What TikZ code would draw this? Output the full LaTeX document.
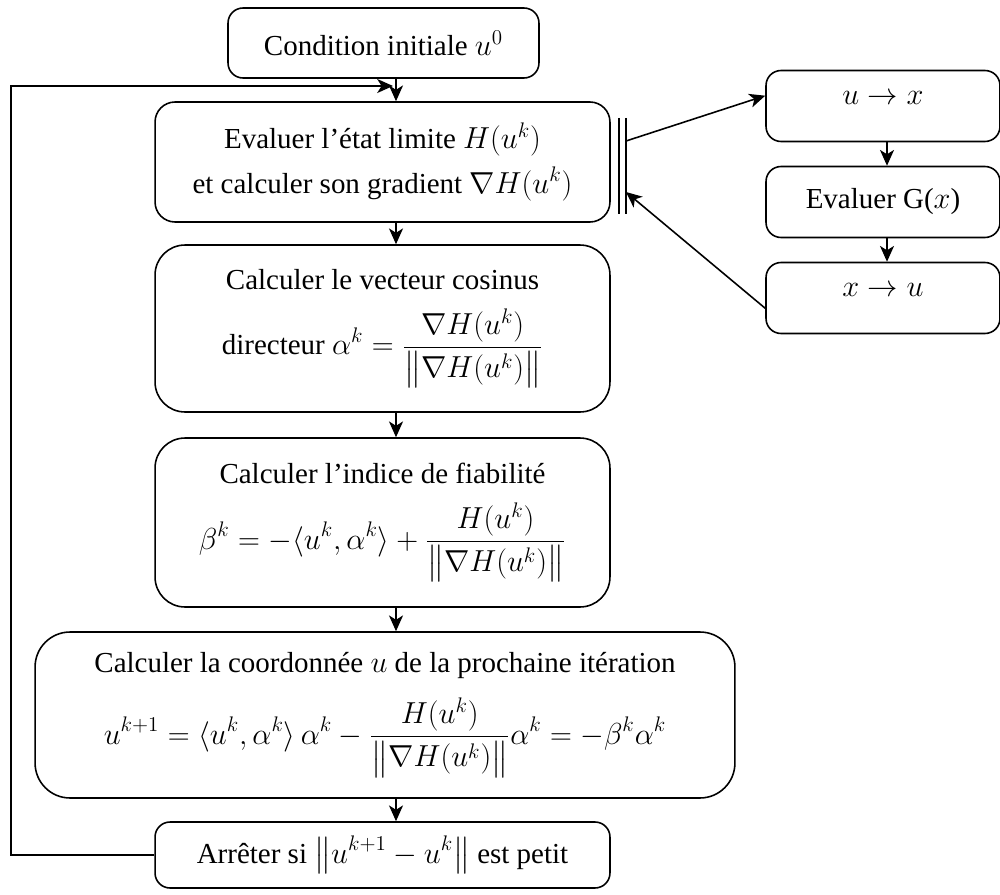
\documentclass[tikz,border=0pt]{standalone}
\usepackage{amsmath}
\usepackage{fontspec}
\setmainfont{Liberation Serif}
\usepackage{tikz}
\usetikzlibrary{arrows.meta,positioning,calc}

\newcommand{\fml}[1]{{$\displaystyle #1$}}
\newcommand{\nrm}[1]{\big\|#1\big\|}

\tikzset{
  stepbox/.style={draw,rounded corners=0.45cm,line width=0.9pt,align=center,
    inner sep=4pt,font=\fontsize{16.5}{26}\selectfont},
  sidebox/.style={stepbox,rounded corners=0.3cm,minimum width=4.68cm,minimum height=1.42cm},
  flow/.style={-{Stealth[length=9pt,width=8pt,inset=2.5pt]},line width=0.9pt},
}

\begin{document}
\begin{tikzpicture}[x=0.02cm,y=-0.02cm]
\useasboundingbox (0,0) rectangle (1000,895);
\coordinate (spine) at (396,0);
% main column
\node[stepbox,rounded corners=0.3cm,minimum width=6.22cm,minimum height=1.4cm] (init) at (383.5,43)
  {Condition initiale $u^0$};
\node[stepbox,rounded corners=0.4cm,minimum width=9.1cm,minimum height=2.4cm] (etat) at (382.5,162)
  {Evaluer l’état limite $H(u^k)$\\ et calculer son gradient \fml{\nabla H(u^k)}};
\node[stepbox,rounded corners=0.6cm,minimum width=9.1cm,minimum height=3.34cm] (cosinus) at (382.5,328.5)
  {Calculer le vecteur cosinus\\[10pt]
   directeur \fml{\alpha^k=\frac{\nabla H(u^k)}{\nrm{\nabla H(u^k)}}}};
\node[stepbox,rounded corners=0.6cm,minimum width=9.1cm,minimum height=3.38cm] (fiab) at (382.5,522.5)
  {Calculer l’indice de fiabilité\\[10pt]
   \fml{\beta^k=-\langle u^k,\alpha^k\rangle+\frac{H(u^k)}{\nrm{\nabla H(u^k)}}}};
\node[stepbox,rounded corners=0.7cm,minimum width=14cm,minimum height=3.32cm] (iter) at (385,715)
  {Calculer la coordonnée $u$ de la prochaine itération\\[10pt]
   \fml{u^{k+1}=\langle u^k,\alpha^k\rangle\,\alpha^k-\frac{H(u^k)}{\nrm{\nabla H(u^k)}}\alpha^k=-\beta^k\alpha^k}};
\node[stepbox,rounded corners=0.3cm,minimum width=9.1cm,minimum height=1.32cm] (stop) at (382.5,855)
  {Arrêter si \fml{\nrm{u^{k+1}-u^k}} est petit};
% side column
\node[sidebox,text depth=9pt] (ux) at (883,106) {$u\to x$};
\node[sidebox] (gx) at (883,202) {Evaluer G($x$)};
\node[sidebox,text depth=9pt] (xu) at (883,298) {$x\to u$};
% double bar
\draw[line width=0.9pt] (619,118) -- (619,214) (626,118) -- (626,214);
\coordinate (gout) at (626,141);
\coordinate (gin) at (626,192);
\coordinate (join) at (393,86);
% arrows
\draw[flow] (init.south -| spine) -- (etat.north -| spine);
\draw[flow] (etat.south -| spine) -- (cosinus.north -| spine);
\draw[flow] (cosinus.south -| spine) -- (fiab.north -| spine);
\draw[flow] (fiab.south -| spine) -- (iter.north -| spine);
\draw[flow] (iter.south -| spine) -- (stop.north -| spine);
\draw[flow] (stop.west) -- ++(-143,0) |- (join);
\draw[flow] (ux.south -| 887,0) -- (gx.north -| 887,0);
\draw[flow] (gx.south -| 887,0) -- (xu.north -| 887,0);
\draw[flow] (gout) -- (ux.175);
\draw[flow] (xu.185) -- (gin);
\end{tikzpicture}
\end{document}
